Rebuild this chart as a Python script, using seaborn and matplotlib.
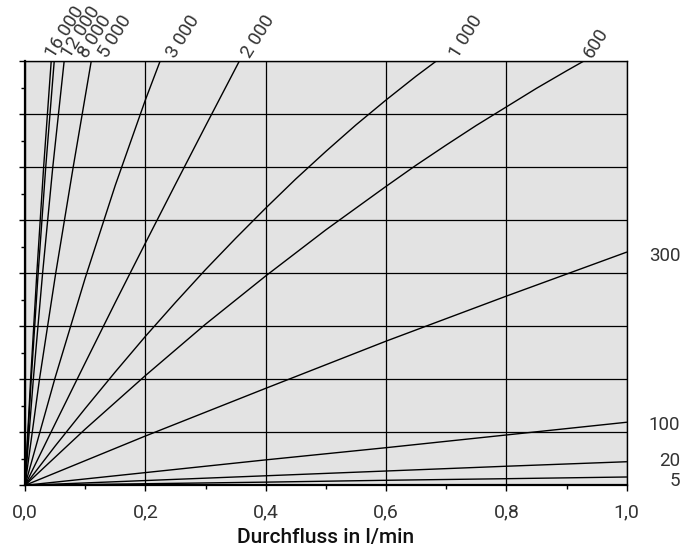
import matplotlib
matplotlib.use("Agg")
import matplotlib.pyplot as plt
import seaborn as sns
import pandas as pd
from matplotlib.ticker import MultipleLocator

# ---------------- data ----------------
curve_names = ["16 000", "12 000", "8 000", "5 000", "3 000", "2 000",
               "1 000", "600", "300", "100", "20", "5"]

x_16000 = [0, 0.0093, 0.0196, 0.0309, 0.0435]
y_16000 = [0, 2, 4, 6, 8]
x_12000 = [0, 0.0103, 0.0218, 0.0344, 0.0485]
y_12000 = [0, 2, 4, 6, 8]
x_8000 = [0, 0.0138, 0.0292, 0.0461, 0.0650]
y_8000 = [0, 2, 4, 6, 8]
x_5000 = [0, 0.0240, 0.0510, 0.0800, 0.1100]
y_5000 = [0, 2, 4, 6, 8]
x_3000 = [0, 0.05, 0.10, 0.15, 0.20, 0.2244]
y_3000 = [0, 2.03, 3.91, 5.66, 7.27, 8]
x_2000 = [0, 0.05, 0.10, 0.15, 0.20, 0.25, 0.30, 0.356]
y_2000 = [0, 1.16, 2.31, 3.45, 4.57, 5.68, 6.78, 8]
x_1000 = [0, 0.05, 0.1, 0.15, 0.2, 0.25, 0.3, 0.35, 0.4, 0.45, 0.5, 0.55, 0.6, 0.65, 0.683]
y_1000 = [0, 0.74, 1.45, 2.14, 2.81, 3.45, 4.07, 4.66, 5.23, 5.78, 6.30, 6.80, 7.27, 7.72, 8]
x_600 = [0, 0.1, 0.2, 0.3, 0.4, 0.5, 0.6, 0.65, 0.7, 0.75, 0.8, 0.85, 0.9, 0.928]
y_600 = [0, 1.06, 2.07, 3.04, 3.95, 4.82, 5.64, 6.04, 6.42, 6.79, 7.14, 7.49, 7.82, 8]
x_300 = [0, 0.2, 0.4, 0.6, 0.8, 1.0]
y_300 = [0, 0.93, 1.83, 2.72, 3.57, 4.40]
x_100 = [0, 0.2, 0.4, 0.6, 0.8, 1.0]
y_100 = [0, 0.24, 0.48, 0.71, 0.95, 1.19]
x_20 = [0, 0.2, 0.4, 0.6, 0.8, 1.0]
y_20 = [0, 0.09, 0.18, 0.27, 0.36, 0.445]
x_5 = [0, 0.2, 0.4, 0.6, 0.8, 1.0]
y_5 = [0, 0.03, 0.06, 0.095, 0.125, 0.157]

curve_x = [x_16000, x_12000, x_8000, x_5000, x_3000, x_2000,
           x_1000, x_600, x_300, x_100, x_20, x_5]
curve_y = [y_16000, y_12000, y_8000, y_5000, y_3000, y_2000,
           y_1000, y_600, y_300, y_100, y_20, y_5]

top_labels = ["16 000", "12 000", "8 000", "5 000", "3 000", "2 000", "1 000", "600"]
top_label_x = [0.0536, 0.0802, 0.1085, 0.1417, 0.2547, 0.3794, 0.7256, 0.9480]

right_labels = ["300", "100", "20", "5"]
right_label_y = [4.33, 1.14, 0.45, 0.09]

x_ticks = [0.0, 0.2, 0.4, 0.6, 0.8, 1.0]
x_tick_labels = ["0,0", "0,2", "0,4", "0,6", "0,8", "1,0"]
x_label = "Durchfluss in l/min"

# ---------------- build table ----------------
rows = []
for name, xs, ys in zip(curve_names, curve_x, curve_y):
    for xv, yv in zip(xs, ys):
        rows.append({"curve": name, "x": xv, "y": yv})
df = pd.DataFrame(rows)

# ---------------- style ----------------
sns.set_style("white")
plt.rcParams["font.family"] = ["Roboto", "DejaVu Sans"]

fig = plt.figure(figsize=(6.97, 5.52), dpi=100)
ax = fig.add_axes([0.0359, 0.1208, 0.8632, 0.7681])
ax.set_facecolor("#e3e3e3")

sns.lineplot(data=df, x="x", y="y", units="curve", estimator=None,
             color="black", linewidth=1.0, ax=ax, legend=False, sort=False)

ax.set_xlim(0, 1.0)
ax.set_ylim(0, 8)
ax.set_xticks(x_ticks)
ax.set_xticklabels(x_tick_labels)
ax.xaxis.set_minor_locator(MultipleLocator(0.1))
ax.yaxis.set_major_locator(MultipleLocator(1))
ax.yaxis.set_minor_locator(MultipleLocator(0.5))
ax.set_yticklabels([])
ax.grid(True, which="major", color="black", linewidth=0.9)
ax.set_axisbelow(True)

for s in ax.spines.values():
    s.set_color("black")
    s.set_linewidth(1.0)
ax.spines["left"].set_linewidth(1.6)
ax.spines["bottom"].set_linewidth(1.6)

ax.tick_params(axis="x", which="major", direction="out", length=4, width=1,
               color="black", labelsize=14, labelcolor="#333333", pad=9,
               bottom=True)
ax.tick_params(axis="x", which="minor", direction="out", length=3, width=1,
               color="black", bottom=True)
ax.tick_params(axis="y", which="major", direction="out", length=4, width=1,
               color="black", left=True)
ax.tick_params(axis="y", which="minor", direction="out", length=3, width=1,
               color="black", left=True)

ax.set_xlabel(x_label, fontsize=15, fontweight="medium", color="#111111",
              labelpad=5)
ax.set_ylabel("")

for lab, xv in zip(top_labels, top_label_x):
    ax.text(xv, 8.0, lab, rotation=58, rotation_mode="anchor",
            ha="left", va="bottom", fontsize=13.5, color="#333333",
            clip_on=False)

for lab, yv in zip(right_labels, right_label_y):
    ax.text(1.089, yv, lab, ha="right", va="center", fontsize=13.5,
            color="#333333", clip_on=False)

fig.savefig("out.png", dpi=100)
